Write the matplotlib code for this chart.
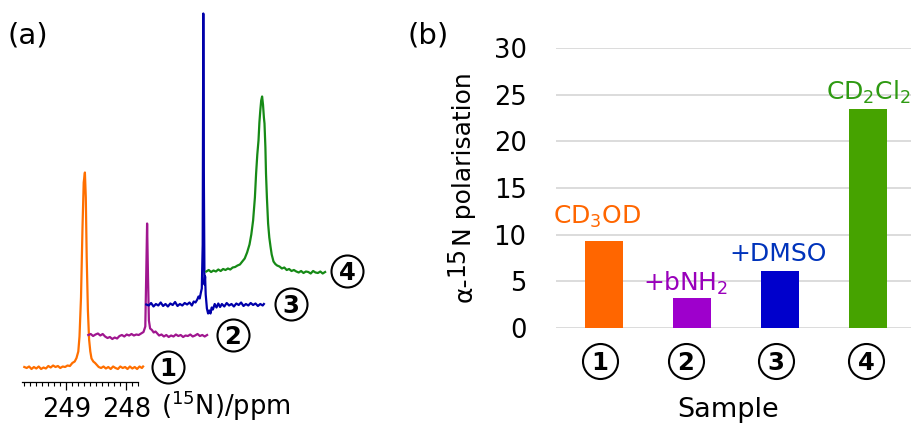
import numpy as np
import matplotlib
matplotlib.use("Agg")
import matplotlib.pyplot as plt

# ---------------- data: panel (a) 15N spectra (ppm, intensity in a.u.) ----------------
spec1_ppm = [249.70, 249.66, 249.62, 249.58, 249.54, 249.50, 249.46, 249.42, 249.38, 249.34,
             249.30, 249.26, 249.22, 249.18, 249.14, 249.10, 249.06, 249.02, 248.98, 248.94,
             248.90, 248.86, 248.83, 248.80, 248.78, 248.755, 248.73, 248.71, 248.69, 248.675,
             248.66, 248.64, 248.62, 248.60, 248.58, 248.55, 248.52, 248.49, 248.46, 248.42,
             248.38, 248.34, 248.30, 248.26, 248.22, 248.18, 248.14, 248.10, 248.06, 248.02,
             247.98, 247.94, 247.90, 247.86, 247.82, 247.78, 247.74, 247.72]
spec1_int = [0.5, -0.5, 1.0, -1.5, 0.5, -1.0, 1.0, -1.5, 0.0, -1.0,
             1.5, 0.0, 2.0, 0.5, 1.5, -0.5, 1.0, 0.5, 2.0, 1.5,
             4.5, 6.0, 9.5, 16.0, 31.0, 70.0, 140.0, 185.0, 195.0, 170.0,
             110.0, 57.0, 28.0, 16.0, 9.0, 6.0, 4.5, 2.5, 0.5, -0.5,
             1.0, -1.0, 0.5, -1.5, 1.0, -0.5, -1.5, 1.0, -0.5, 0.5,
             -1.5, 1.0, -1.0, 0.5, -1.5, 1.0, -0.5, 1.0]

spec2_ppm = [249.70, 249.66, 249.62, 249.58, 249.54, 249.50, 249.46, 249.42, 249.38, 249.34,
             249.30, 249.26, 249.22, 249.18, 249.14, 249.10, 249.06, 249.02, 248.98, 248.94,
             248.90, 248.86, 248.82, 248.78, 248.75, 248.735, 248.72, 248.705, 248.69, 248.67,
             248.64, 248.61, 248.58, 248.55, 248.52, 248.48, 248.44, 248.40, 248.36, 248.32,
             248.28, 248.24, 248.20, 248.16, 248.12, 248.08, 248.04, 248.00, 247.96, 247.92,
             247.88, 247.84, 247.80, 247.76, 247.72]
spec2_int = [1.5, 2.5, 0.5, 2.0, 3.0, 1.0, 2.5, 0.0, -1.5, -0.5,
             -2.5, -1.0, -2.0, 0.5, 1.5, 0.0, 2.0, 1.0, 2.5, 1.0,
             2.0, 1.5, 3.0, 4.5, 10.0, 60.0, 113.0, 60.0, 16.0, 8.0,
             6.5, 4.0, 5.0, 3.0, 1.0, 2.0, 0.0, 1.5, -0.5, 1.0,
             0.0, 2.0, 0.5, 1.5, -0.5, 1.0, 0.5, 2.0, 0.0, 1.0,
             2.5, 0.5, 1.5, 0.0, 1.5]

spec3_ppm = [249.70, 249.66, 249.62, 249.58, 249.54, 249.50, 249.46, 249.42, 249.38, 249.34,
             249.30, 249.26, 249.22, 249.18, 249.14, 249.10, 249.06, 249.02, 248.98, 248.94,
             248.91, 248.88, 248.85, 248.83, 248.81, 248.79, 248.775, 248.76, 248.75, 248.74,
             248.73, 248.72, 248.71, 248.69, 248.67, 248.65, 248.63, 248.61, 248.59, 248.56,
             248.53, 248.50, 248.47, 248.44, 248.40, 248.36, 248.32, 248.28, 248.24, 248.20,
             248.16, 248.12, 248.08, 248.04, 248.00, 247.96, 247.92, 247.88, 247.84, 247.80,
             247.76, 247.74]
spec3_int = [0.0, -1.0, 1.5, -2.0, 0.5, -1.0, 2.0, -1.5, 0.5, -2.0,
             1.0, -0.5, 2.5, -1.5, 0.5, -1.0, 1.5, 0.0, 2.0, -1.0,
             3.0, 2.0, 5.0, 8.0, 6.0, 12.0, 16.0, 60.0, 291.0, 120.0,
             20.0, 28.0, 10.0, -4.0, -9.0, -6.0, -9.0, -3.0, -5.0, 0.5,
             -3.0, 1.0, -2.5, 0.5, -2.0, 1.5, -1.0, 0.5, -2.0, 1.0,
             -0.5, 2.0, -1.5, 0.5, -1.0, 1.5, -0.5, 1.0, -1.5, 0.5,
             -1.0, 0.5]

spec4_ppm = [249.70, 249.66, 249.62, 249.58, 249.54, 249.50, 249.46, 249.42, 249.38, 249.34,
             249.30, 249.26, 249.22, 249.18, 249.14, 249.10, 249.06, 249.02, 248.98, 248.95,
             248.92, 248.89, 248.87, 248.85, 248.83, 248.815, 248.80, 248.785, 248.77, 248.755,
             248.74, 248.73, 248.715, 248.705, 248.69, 248.67, 248.65, 248.63, 248.61, 248.58,
             248.55, 248.52, 248.48, 248.44, 248.40, 248.36, 248.32, 248.28, 248.24, 248.20,
             248.16, 248.12, 248.08, 248.04, 248.00, 247.96, 247.92, 247.88, 247.84, 247.80,
             247.76, 247.72]
spec4_int = [1.0, 2.5, 0.5, 2.0, 1.0, 3.0, 1.5, 3.5, 2.5, 4.0,
             3.0, 5.0, 5.5, 7.0, 8.0, 11.0, 14.0, 20.0, 28.0, 38.0,
             52.0, 75.0, 99.0, 118.0, 132.0, 150.0, 162.0, 172.0, 176.0, 168.0,
             155.0, 149.0, 125.0, 99.0, 75.0, 49.0, 35.0, 26.0, 18.0, 11.0,
             8.5, 7.0, 6.0, 4.0, 5.0, 2.5, 3.5, 1.5, 2.5, 1.0,
             0.0, 1.5, -0.5, 1.0, 0.5, -1.0, 1.5, 0.0, -0.5, 1.0,
             -1.0, 0.5]

spectra_ppm = [spec1_ppm, spec2_ppm, spec3_ppm, spec4_ppm]
spectra_int = [spec1_int, spec2_int, spec3_int, spec4_int]
spectra_colors = ["#ff6f00", "#a0168f", "#0000aa", "#168a16"]
sample_ids = ["1", "2", "3", "4"]

# ---------------- data: panel (b) ----------------
polarisation = [9.3, 3.15, 6.1, 23.5]
solvent_labels = ["CD$_3$OD", "+bNH$_2$", "+DMSO", "CD$_2$Cl$_2$"]
bar_colors = ["#ff6600", "#9e00cc", "#0000cc", "#46a300"]
label_colors = ["#ff6600", "#9900bb", "#0033bb", "#2e9a12"]

# ---------------- layout ----------------
W, H = 911, 424
fig = plt.figure(figsize=(W / 100, H / 100), dpi=100)


def fx(px):
    return px / W


def fy(py):
    return 1 - py / H


# ---------- panel (a) ----------
spine_y = 381.7
ax1 = fig.add_axes([0, fy(spine_y), fx(380), spine_y / H])
ppm_per_px = 1 / 60.0
ax1.set_xlim(249 + 66.3 * ppm_per_px, 249 - (380 - 66.3) * ppm_per_px)
ax1.set_ylim(0, spine_y)
ax1.patch.set_alpha(0)

stack_shift_px = [0, 64, 122, 182]
stack_base_px = [367.5, 336.5, 304.5, 272.5]
for ppm, inten, col, sh, base in zip(spectra_ppm, spectra_int, spectra_colors,
                                     stack_shift_px, stack_base_px):
    ax1.plot(np.array(ppm) - sh * ppm_per_px, np.array(inten) + (spine_y - base),
             color=col, lw=1.6, solid_joinstyle="round")

for s in ["top", "left", "right"]:
    ax1.spines[s].set_visible(False)
ax1.spines["bottom"].set_bounds(247.80, 249.74)
ax1.spines["bottom"].set_linewidth(0.9)
ax1.set_xticks([249, 248])
ax1.set_xticklabels(["249", "248"])
ax1.set_xticks(np.round(np.arange(247.8, 249.75, 0.1), 2), minor=True)
ax1.tick_params(axis="x", which="major", length=5.8, width=0.9, pad=5.0,
                labelsize=18.5, direction="out")
ax1.tick_params(axis="x", which="minor", length=2.6, width=0.8, direction="out")
ax1.set_yticks([])
fig.text(fx(161), fy(415), "($^{15}$N)/ppm", fontsize=18.5, ha="left", va="baseline")


def circled(xc, yc, txt, diam_px, fs):
    fig.lines.append(plt.Line2D([fx(xc)], [fy(yc)], marker="o", ms=diam_px * 0.72,
                                mfc="none", mec="black", mew=1.5,
                                transform=fig.transFigure))
    cap = fs / 0.72 * 0.729
    fig.text(fx(xc), fy(yc + cap / 2), txt, fontsize=fs, fontweight="bold",
             ha="center", va="baseline")


circ_a = [(168, 367), (233, 335), (291, 304), (347, 271)]
for (xc, yc), t in zip(circ_a, sample_ids):
    circled(xc, yc, t, 32, 17.5)

fig.text(fx(8), fy(43.5), "(a)", fontsize=21, ha="left", va="baseline")

# ---------- panel (b) ----------
left_b, zero_b, top_b = 555.7, 327.7, 48.3
ax2 = fig.add_axes([fx(left_b), fy(zero_b), fx(W - left_b), (zero_b - top_b) / H])
spacing = 88.17
x0 = 603.8
xpos = np.arange(len(polarisation))
ax2.bar(xpos, polarisation, width=37.7 / spacing, color=bar_colors, zorder=3)
ax2.set_xlim(-(x0 - left_b) / spacing, (W - x0) / spacing)
ax2.set_ylim(0, 30)
ax2.set_yticks(range(0, 31, 5))
ax2.set_xticks([])
ax2.grid(axis="y", color="#d9d9d9", lw=1.3, zorder=0)
ax2.set_axisbelow(True)
for s in ax2.spines.values():
    s.set_visible(False)
ax2.tick_params(axis="y", length=0, pad=21, labelsize=18.5)

label_off_px = [(-6.8, 17), (-6, 8), (-2, 9.7), (0, 8.7)]
for i, (lab, val, col, (dx, dy)) in enumerate(zip(solvent_labels, polarisation,
                                                  label_colors, label_off_px)):
    ax2.annotate(lab, xy=(i, val), xytext=(dx * 0.72, dy * 0.72), textcoords="offset points",
                 ha="center", va="baseline", fontsize=18, color=col)

circ_b_x = [599.5, 686, 776, 866]
for xc, t in zip(circ_b_x, sample_ids):
    circled(xc, 361, t, 35, 17.5)

fig.text(fx(728), fy(416.7), "Sample", fontsize=19.5, ha="center", va="baseline")

# y label of panel (b): "α-" + raised "15" + "N polarisation"
renderer = fig.canvas.get_renderer()
base_x = 471.5
cur_y = 302.0
pieces = [("α-", 18, 0.0), ("15", 17, -8.0), ("N polarisation", 18, 0.0)]
for txt, fs, dxb in pieces:
    t = fig.text(fx(base_x + dxb), fy(cur_y), txt, fontsize=fs, rotation=90,
                 rotation_mode="anchor", ha="left", va="baseline")
    bb = t.get_window_extent(renderer=renderer)
    cur_y -= bb.height

fig.text(fx(408), fy(43.5), "(b)", fontsize=21, ha="left", va="baseline")

fig.savefig("out.png", dpi=100)
